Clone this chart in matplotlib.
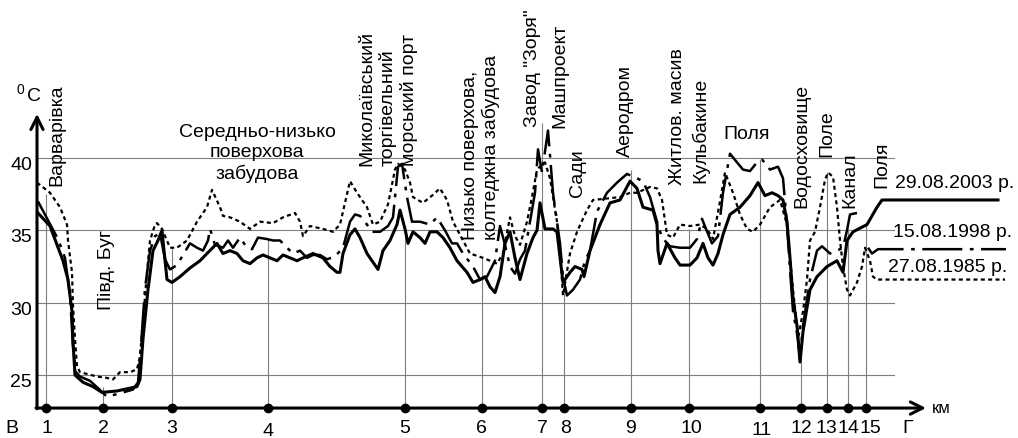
import numpy as np
import matplotlib.pyplot as plt

# відстань уздовж профілю (умовні одиниці) та температура, °C
x_2003 = [38, 50, 63, 68, 72, 73, 75, 83, 93, 102,
          117, 137, 140, 143, 148, 153, 158, 162, 163, 167,
          172, 180, 190, 200, 207, 217, 223, 230, 237, 243,
          250, 257, 263, 270, 277, 283, 290, 297, 303, 313,
          323, 330, 337, 340, 343, 350, 355, 360, 367, 375,
          378, 383, 390, 397, 400, 405, 408, 413, 420, 425,
          430, 437, 443, 450, 457, 467, 473, 480, 485, 490,
          495, 500, 505, 510, 515, 520, 527, 533, 537, 540,
          545, 553, 557, 563, 570, 575, 582, 584, 590, 600,
          610, 620, 630, 637, 643, 653, 657, 658, 660, 667,
          675, 680, 690, 697, 703, 708, 713, 718, 723, 730,
          740, 750, 758, 765, 772, 778, 783, 787, 790, 793,
          797, 800, 803, 810, 817, 827, 837, 843, 847, 853,
          867, 877, 882, 998]
t_2003 = [36.2, 35.3, 32.9, 31.6, 29.4, 27.3, 25.0, 24.5, 24.2, 23.8,
          23.9, 24.2, 24.7, 27.5, 30.9, 33.6, 34.3, 35.0, 34.3, 31.6,
          31.4, 31.8, 32.4, 32.9, 33.4, 34.1, 33.4, 33.6, 33.4, 32.9,
          32.7, 33.1, 33.3, 33.1, 32.9, 33.3, 33.1, 32.9, 33.1, 33.4,
          33.1, 32.5, 32.1, 32.1, 33.4, 34.7, 35.1, 34.5, 33.4, 32.6,
          32.3, 33.6, 34.3, 35.4, 36.4, 35.1, 34.1, 34.9, 34.5, 34.1,
          34.9, 34.9, 34.5, 33.8, 32.9, 32.1, 31.4, 31.6, 31.8, 31.1,
          30.7, 31.8, 34.1, 34.9, 33.1, 31.6, 33.4, 34.5, 35.0, 36.9,
          35.1, 35.1, 34.9, 31.4, 32.1, 32.5, 32.3, 31.8, 33.6, 35.4,
          36.9, 37.1, 38.4, 37.9, 36.6, 36.4, 35.4, 33.6, 32.7, 34.1,
          33.1, 32.6, 32.6, 33.1, 34.1, 33.1, 32.6, 33.4, 34.7, 36.1,
          36.6, 37.4, 38.3, 37.4, 37.6, 37.4, 37.1, 35.6, 33.1, 30.3,
          28.4, 25.9, 28.0, 30.9, 31.8, 32.5, 32.9, 32.1, 34.3, 34.9,
          35.4, 36.6, 37.1, 37.1]

x_1998 = [38, 48, 58, 65, 70, 73, 76, 80, 90, 98,
          107, 123, 133, 138, 141, 145, 150, 155, 160, 165,
          170, 177, 183, 190, 197, 203, 208, 210, 215, 223,
          228, 233, 240, 247, 252, 258, 267, 273, 280, 287,
          293, 300, 307, 313, 320, 327, 335, 343, 350, 355,
          360, 367, 372, 380, 388, 393, 398, 402, 407, 412,
          420, 430, 437, 445, 452, 457, 463, 473, 480, 487,
          495, 500, 505, 510, 515, 520, 525, 530, 535, 538,
          542, 548, 553, 557, 560, 563, 567, 573, 580, 585,
          590, 597, 607, 617, 627, 637, 643, 650, 657, 662,
          670, 680, 690, 697, 702, 706, 712, 718, 720, 723,
          730, 737, 743, 750, 757, 762, 770, 778, 783, 787,
          790, 793, 798, 800, 803, 810, 817, 822, 830, 837,
          843, 847, 850, 857, 861, 868, 872, 878, 1006]
t_1998 = [37.0, 35.7, 34.4, 33.1, 30.5, 27.0, 25.2, 24.9, 24.6, 24.1,
          23.5, 23.8, 24.0, 24.5, 27.0, 31.0, 33.6, 34.6, 34.8, 33.0,
          32.3, 32.6, 33.3, 34.1, 33.8, 33.6, 34.3, 35.1, 34.0, 33.8,
          34.3, 33.8, 34.5, 33.8, 33.7, 34.5, 34.4, 34.3, 34.3, 33.8,
          33.4, 33.6, 33.1, 33.3, 33.3, 33.0, 33.2, 33.8, 35.6, 36.1,
          36.0, 35.4, 34.9, 34.9, 35.3, 35.9, 39.4, 39.6, 37.3, 35.6,
          35.6, 35.4, 35.9, 35.0, 34.1, 34.1, 33.4, 32.5, 31.6, 31.8,
          32.9, 35.3, 34.0, 32.5, 32.0, 33.0, 33.6, 35.6, 37.6, 40.6,
          39.0, 41.9, 37.6, 35.6, 34.1, 31.8, 30.5, 30.9, 31.6, 32.9,
          33.6, 36.3, 37.6, 38.3, 38.9, 38.6, 38.4, 37.3, 35.6, 34.5,
          33.9, 33.8, 33.8, 34.4, 35.8, 35.1, 34.1, 34.6, 35.8, 37.6,
          40.3, 39.7, 39.2, 39.1, 39.7, 39.9, 39.2, 39.4, 38.6, 35.4,
          32.3, 29.4, 27.5, 26.1, 28.4, 31.6, 33.6, 33.9, 33.4, 33.6,
          33.8, 35.0, 36.1, 36.2, np.nan, 33.8, 33.4, 33.7, 33.7]

x_1985 = [37, 50, 60, 67, 68, 72, 73, 75, 77, 80,
          97, 107, 113, 120, 130, 137, 140, 143, 147, 150,
          155, 157, 162, 170, 177, 187, 197, 207, 212, 220,
          223, 230, 240, 250, 260, 273, 283, 295, 300, 303,
          310, 323, 333, 340, 350, 357, 367, 373, 380, 388,
          395, 398, 405, 410, 413, 423, 432, 440, 447, 453,
          460, 470, 483, 497, 503, 510, 515, 520, 527, 532,
          537, 540, 545, 550, 557, 560, 563, 570, 577, 587,
          593, 607, 620, 630, 637, 650, 657, 662, 667, 673,
          680, 690, 700, 707, 713, 720, 725, 733, 740, 747,
          753, 760, 770, 780, 787, 790, 793, 797, 798, 803,
          807, 810, 815, 820, 825, 828, 833, 837, 840, 843,
          847, 850, 857, 862, 865, 870, 873, 877, 1005]
t_1985 = [38.3, 37.6, 36.6, 35.4, 34.3, 32.1, 29.8, 27.5, 25.6, 25.2,
          24.9, 24.8, 24.7, 25.2, 25.2, 25.4, 26.3, 28.7, 32.1, 34.3,
          35.4, 35.5, 35.1, 33.8, 33.8, 34.3, 35.6, 36.6, 37.8, 36.6,
          36.0, 35.9, 35.6, 35.1, 35.6, 35.5, 35.9, 36.2, 35.6, 34.6,
          35.3, 35.1, 34.9, 35.4, 38.4, 37.6, 36.6, 35.4, 35.6, 36.8,
          39.2, 39.6, 39.2, 38.3, 37.3, 36.9, 37.4, 37.9, 37.1, 35.6,
          34.7, 33.4, 33.1, 32.7, 33.4, 35.9, 34.6, 34.0, 35.6, 37.3,
          39.2, 39.4, 39.7, 38.6, 35.6, 33.6, 30.5, 33.4, 34.9, 36.4,
          37.1, 37.2, 37.3, 37.6, 37.6, 38.0, 37.9, 37.1, 34.7, 34.5,
          35.4, 35.3, 35.4, 35.1, 34.4, 37.0, 39.0, 37.6, 36.1, 35.1,
          34.9, 35.4, 36.6, 37.1, 35.4, 33.1, 30.9, 28.4, 27.5, 29.4,
          31.6, 34.3, 34.9, 36.6, 38.5, 39.0, 38.7, 36.6, 34.3, 32.5,
          30.9, 30.5, 31.4, 32.5, 33.8, 32.9, 31.8, 31.6, 31.6]

# точки профілю
point_x = [46, 103, 172, 268, 405, 482, 542, 564, 631, 689, 760, 801, 827, 848, 866]
point_top = [37.5, 24.2, 33.8, 34.4, 34.8, 33.1, 42.4, 31.5, 39.2, 35.1, 39.9, 27.7, 39.0, 35.1, 35.4]
point_lab = ['1', '2', '3', '4', '5', '6', '7', '8', '9', '10', '11', '12', '13', '14', '15']
point_lab_x = [47, 103, 172, 268, 405, 481, 542, 566, 631, 691, 762, 801, 826, 848, 870]
point_lab_t = [21.4, 21.4, 21.4, 21.15, 21.4, 21.4, 21.4, 21.4, 21.4, 21.4, 21.25, 21.4, 21.4, 21.4, 21.4]

grid_t = [25, 30, 35, 40]

plt.rcParams['font.family'] = ['Liberation Sans', 'DejaVu Sans']
fs = 14

fig = plt.figure(figsize=(10.18, 4.39), dpi=100)
ax = fig.add_axes([0, 0, 1, 1])
ax.set_xlim(0, 1018)
ax.set_ylim(20.65, 50.99)
ax.axis('off')

axis_t = 22.72

for t in grid_t:
    ax.plot([37, 894], [t, t], color='#7f7f7f', lw=0.8, zorder=1)
    ax.text(32, t - 0.45, str(t), fontsize=fs, ha='right', va='center')
ax.vlines(point_x, axis_t, point_top, color='#7f7f7f', lw=0.8, zorder=1)

# осі
ax.annotate('', xy=(926, axis_t), xytext=(36, axis_t),
            arrowprops=dict(arrowstyle='->', lw=2.2, color='k', mutation_scale=22, shrinkA=0, shrinkB=0))
ax.annotate('', xy=(37, 43.05), xytext=(37, axis_t - 0.05),
            arrowprops=dict(arrowstyle='->', lw=2.2, color='k', mutation_scale=22, shrinkA=0, shrinkB=0))
ax.plot(point_x, [axis_t] * len(point_x), 'o', color='k', ms=6, zorder=5)
for x, lab, t in zip(point_lab_x, point_lab, point_lab_t):
    ax.text(x, t, lab, fontsize=fs, ha='center', va='center')

ax.text(12, 21.4, 'В', fontsize=fs, ha='center', va='center')
ax.text(908, 21.4, 'Г', fontsize=fs, ha='center', va='center')
ax.text(932, 22.75, 'км', fontsize=12, ha='left', va='center')
ax.text(20, 44.8, '0', fontsize=10, ha='center', va='center')
ax.text(34, 44.3, 'С', fontsize=fs, ha='center', va='center')

# криві
ax.plot(x_2003, t_2003, color='k', lw=2.2, solid_joinstyle='round', zorder=4)
ax.plot(x_1998, t_1998, color='k', lw=1.8, dashes=(16, 3, 1.5, 3), zorder=4)
ax.plot(x_1985, t_1985, color='k', lw=1.6, dashes=(1.8, 1.5), zorder=3)

ax.text(895, 38.34, '29.08.2003 р.', fontsize=fs, ha='left', va='center')
ax.text(893, 34.95, '15.08.1998 р.', fontsize=fs, ha='left', va='center')
ax.text(888, 32.47, '27.08.1985 р.', fontsize=fs, ha='left', va='center')

# підписи
ax.text(257, 40.41, 'Середньо-низько\nповерхова\nзабудова', fontsize=fs,
        ha='center', va='center', multialignment='center', linespacing=1.25)
ax.text(747, 41.66, 'Поля', fontsize=fs, ha='center', va='center')

vert = [(57, 38.13, 'Варварівка'),
        (107, 29.56, 'Півд. Буг'),
        (388, 39.52, 'Миколаївський\nторгівельний\nморський порт'),
        (481, 34.40, 'Низько поверхова,\nколтеджна забудова'),
        (533, 42.21, 'Завод "Зоря"'),
        (560, 42.14, 'Машпроект'),
        (578, 37.37, 'Сади'),
        (625, 40.14, 'Аеродром'),
        (678, 38.2, 'Житлов. масив'),
        (700, 38.34, 'Кульбакине'),
        (802, 36.61, 'Водосховище'),
        (827, 40.14, 'Поле'),
        (850, 36.61, 'Канал'),
        (882, 38.0, 'Поля')]
for x, t, s in vert:
    ax.text(x, t, s, fontsize=fs, rotation=90, ha='center', va='bottom',
            multialignment='left', linespacing=1.25)

fig.savefig('out.png', dpi=100)
